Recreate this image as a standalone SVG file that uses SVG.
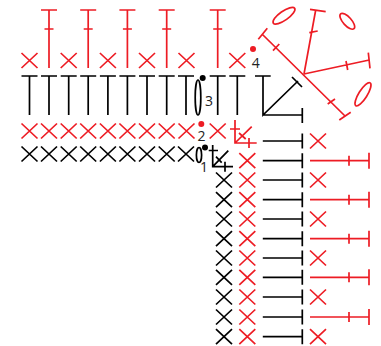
<svg xmlns="http://www.w3.org/2000/svg" xmlns:xlink="http://www.w3.org/1999/xlink" width="381" height="346" viewBox="0 0 381 346">
<style>
.r{stroke:#ed1c24;fill:none;stroke-width:1.7}
.k{stroke:#000;fill:none;stroke-width:1.7}
.n{font-family:"Open Sans","Noto Sans",sans-serif;font-size:14px;fill:#222;text-anchor:middle}
</style>
<defs>
<path id="x" d="M-8-7.5L8 7.5M-8 7.5L8-7.5"/>
<path id="tr" d="M-8-29H8M0-29V29M-4.5-10H4.5"/>
<path id="tk" d="M-8-19.5H8M0-19.5V19.5"/>
<path id="h" d="M-39.5 0H0M0-7.5V7.5"/>
<path id="hr" d="M-59 0H0M0-8V8M-20-5V5"/>
</defs>
<g id="top-red" class="r">
<use href="#x" x="29.5" y="60.5"/><use href="#x" x="68.7" y="60.5"/><use href="#x" x="107.9" y="60.5"/><use href="#x" x="147" y="60.5"/><use href="#x" x="186.5" y="60.5"/><use href="#x" x="237.3" y="60.5"/>
<use href="#tr" x="49" y="39"/><use href="#tr" x="88.2" y="39"/><use href="#tr" x="127.4" y="39"/><use href="#tr" x="166.7" y="39"/><use href="#tr" x="217.7" y="39"/>
</g>
<g id="top-black" class="k">
<use href="#tk" x="29.5" y="95.5"/><use href="#tk" x="49" y="95.5"/><use href="#tk" x="68.7" y="95.5"/><use href="#tk" x="88.2" y="95.5"/><use href="#tk" x="107.9" y="95.5"/><use href="#tk" x="127.4" y="95.5"/><use href="#tk" x="147" y="95.5"/><use href="#tk" x="166.7" y="95.5"/><use href="#tk" x="186" y="95.5"/><use href="#tk" x="217.7" y="95.5"/><use href="#tk" x="237.3" y="95.5"/>
<ellipse cx="198" cy="97.5" rx="2.8" ry="17.5"/>
</g>
<g id="row-red" class="r">
<use href="#x" x="29.5" y="131"/><use href="#x" x="49" y="131"/><use href="#x" x="68.7" y="131"/><use href="#x" x="88.2" y="131"/><use href="#x" x="107.9" y="131"/><use href="#x" x="127.4" y="131"/><use href="#x" x="147" y="131"/><use href="#x" x="166.7" y="131"/><use href="#x" x="186.5" y="131"/><use href="#x" x="217.7" y="131"/>
</g>
<g id="row-black" class="k">
<use href="#x" x="29.5" y="154"/><use href="#x" x="49" y="154"/><use href="#x" x="68.7" y="154"/><use href="#x" x="88.2" y="154"/><use href="#x" x="107.9" y="154"/><use href="#x" x="127.4" y="154"/><use href="#x" x="147" y="154"/><use href="#x" x="166.7" y="154"/><use href="#x" x="186" y="154"/>
<ellipse cx="199" cy="155" rx="2.6" ry="7.5"/>
</g>
<g id="corner-black-large" class="k">
<path d="M255 76H270.7M263 76V115L298 81M292 77L302 87M263 115H302.3M302.3 108V123"/>
</g>
<g id="corner-red-small" class="r">
<path d="M235 120V143H256.7M230 129H240M249 138V148M235 143L251.7 126.7M239 133L245.7 139"/>
</g>
<g id="corner-black-small" class="k">
<path d="M212.7 145V166.7H233M208.7 150.5H218M225 161.7V171.7M212.7 166.7L228.3 150.7M216 156.7L221.7 162.7"/>
</g>
<g id="column-black-x" class="k">
<use href="#x" x="224" y="180"/><use href="#x" x="224" y="199.7"/><use href="#x" x="224" y="219"/><use href="#x" x="224" y="238.7"/><use href="#x" x="224" y="258"/><use href="#x" x="224" y="277.3"/><use href="#x" x="224" y="297"/><use href="#x" x="224" y="317"/><use href="#x" x="224" y="336.7"/>
</g>
<g id="column-red-x" class="r">
<use href="#x" x="247.3" y="160.7"/><use href="#x" x="247.3" y="180"/><use href="#x" x="247.3" y="199.7"/><use href="#x" x="247.3" y="219"/><use href="#x" x="247.3" y="238.7"/><use href="#x" x="247.3" y="258"/><use href="#x" x="247.3" y="277.3"/><use href="#x" x="247.3" y="297"/><use href="#x" x="247.3" y="317"/><use href="#x" x="247.3" y="336.7"/>
</g>
<g id="column-black-t" class="k">
<use href="#h" x="302.3" y="141"/><use href="#h" x="302.3" y="160.7"/><use href="#h" x="302.3" y="180"/><use href="#h" x="302.3" y="199.7"/><use href="#h" x="302.3" y="219"/><use href="#h" x="302.3" y="238.7"/><use href="#h" x="302.3" y="258"/><use href="#h" x="302.3" y="277.3"/><use href="#h" x="302.3" y="297"/><use href="#h" x="302.3" y="317"/><use href="#h" x="302.3" y="336.7"/>
</g>
<g id="column-red-outer" class="r">
<use href="#x" x="318" y="141"/><use href="#x" x="318" y="180"/><use href="#x" x="318" y="219"/><use href="#x" x="318" y="258"/><use href="#x" x="318" y="297"/><use href="#x" x="318" y="336.7"/>
<use href="#hr" x="369" y="160.7"/><use href="#hr" x="369" y="199.7"/><use href="#hr" x="369" y="238.7"/><use href="#hr" x="369" y="277.3"/><use href="#hr" x="369" y="317"/>
</g>
<g id="fan" class="r">
<path d="M262.5 34.5L345 116M258.3 39.3L267.3 28.3M273 50.7L279.3 44M327.7 104L335 99M339.3 120L350.7 112.3"/>
<path d="M304 74L315.7 10M310 9.3L325.7 11.7M309.3 32.7L317.7 31"/>
<path d="M304 74L369.3 60M368.3 52.7L370 68.3M346 61L347.7 70"/>
<ellipse cx="284" cy="15.7" rx="13" ry="4.5" transform="rotate(-35 284 15.7)"/>
<ellipse cx="347.3" cy="21.3" rx="10" ry="4.2" transform="rotate(48 347.3 21.3)"/>
<ellipse cx="363" cy="94.3" rx="13.5" ry="4.2" transform="rotate(-58 363 94.3)"/>
</g>
<g id="markers">
<circle cx="205" cy="147.5" r="3" fill="#000"/><text class="n" x="204" y="171.5">1</text>
<circle cx="201.3" cy="124" r="3" fill="#ed1c24"/><text class="n" x="201.5" y="141">2</text>
<circle cx="202.7" cy="78" r="3" fill="#000"/><text class="n" x="209" y="106">3</text>
<circle cx="253" cy="49" r="3" fill="#ed1c24"/><text class="n" x="255.7" y="68">4</text>
</g>
</svg>
